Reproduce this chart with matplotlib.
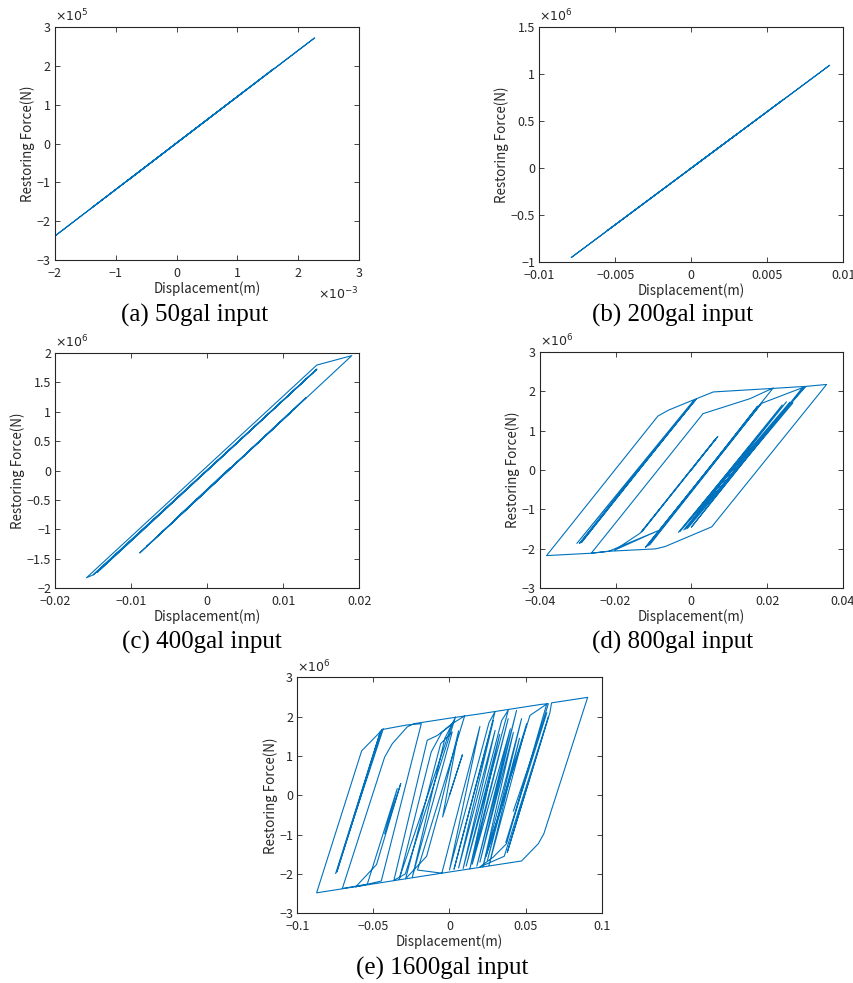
import numpy as np
import matplotlib
matplotlib.use("Agg")
import matplotlib.pyplot as plt

# MATLAB style hysteresis plots, 5 input levels
plt.rcParams['font.family'] = ['Noto Sans CJK JP', 'DejaVu Sans']
plt.rcParams['axes.unicode_minus'] = True

line_color = (0.0, 0.447, 0.741)
text_gray = (0.15, 0.15, 0.15)

# (a) 50gal  -- displacement in 1e-3 m, force in 1e5 N
a_disp = [0.00, 2.27, -2.00, 1.60, -1.40, 1.10, -0.80, 0.00]
a_force = [0.02, 2.72, -2.38, 1.93, -1.66, 1.33, -0.95, 0.02]

# (b) 200gal -- displacement in m, force in 1e6 N
b_disp = [0.0000, 0.0091, -0.0079, 0.0060, -0.0055, 0.0030, 0.0000]
b_force = [0.00, 1.09, -0.95, 0.72, -0.66, 0.36, 0.00]

# (c) 400gal -- force in 1e6 N
c_disp = [0.0000, 0.0144, -0.0150, 0.0140, -0.0145, 0.0144, -0.0150, -0.0159,
          0.0144, 0.0190, -0.0089, 0.0110, -0.0080, 0.0130, -0.0060, 0.0090,
          -0.0040, 0.0030]
c_force = [0.00, 1.72, -1.77, 1.67, -1.73, 1.72, -1.77, -1.82,
           1.79, 1.95, -1.40, 0.99, -1.29, 1.24, -1.05, 0.75,
           -0.80, 0.05]

# (d) 800gal
d_disp = [0.0000, 0.0070, -0.0131, 0.0065, -0.0135, -0.0202, -0.0088, -0.0218,
          -0.0264, 0.0031, 0.0155, 0.0216, -0.0121, 0.0185, -0.0110, 0.0175,
          -0.0115, 0.0185, 0.0302, -0.0034, 0.0251, -0.0020, 0.0268, -0.0010,
          0.0260, -0.0030, 0.0240, -0.0015, 0.0255, 0.0000, 0.0290, 0.0302,
          0.0357, 0.0054, -0.0069, -0.0095, -0.0218, -0.0264, -0.0382, -0.0088,
          -0.0060, 0.0014, -0.0302, 0.0005, -0.0290, 0.0010, -0.0295, 0.0014,
          0.0058, 0.0216, 0.0300, 0.0080]
d_force = [0.00, 0.85, -1.57, 0.80, -1.60, -2.03, -1.54, -2.06,
           -2.11, 1.43, 1.81, 2.08, -1.96, 1.69, -1.90, 1.62,
           -1.93, 1.69, 2.12, -1.58, 1.73, -1.52, 1.70, -1.48,
           1.72, -1.56, 1.65, -1.50, 1.60, -1.45, 2.05, 2.12,
           2.17, -1.44, -1.94, -2.00, -2.06, -2.11, -2.17, 1.37,
           1.52, 1.81, -1.86, 1.75, -1.84, 1.78, -1.86, 1.81,
           1.98, 2.07, 2.12, -0.40]

# (e) 1600gal
e_disp = [0.0000, 0.0085, -0.0045, 0.0060, -0.0063, -0.0150, -0.0288,
          -0.0058, 0.0018, -0.0244, -0.0030, 0.0040, -0.0290, -0.0365,
          -0.0146, -0.0080, 0.0018, -0.0320, -0.0330, -0.0120, -0.0050,
          0.0018, 0.0100, -0.0210, -0.0050, 0.0200,
          0.0000, 0.0260, 0.0300, 0.0030, 0.0288, 0.0060, 0.0300, 0.0090,
          0.0343, 0.0387, 0.0110, 0.0330, 0.0134, 0.0386, 0.0150, 0.0400,
          0.0180, 0.0441, 0.0200, 0.0420, 0.0220, 0.0474, 0.0250, 0.0460,
          0.0260, 0.0507, 0.0240, 0.0529, 0.0639, 0.0375, 0.0288, 0.0200,
          0.0360, 0.0650, 0.0380, 0.0660, 0.0671, 0.0908, 0.0620, 0.0584,
          0.0474, 0.0000, -0.0300, -0.0873, -0.0577, -0.0435, -0.0748,
          -0.0453, -0.0740, -0.0445, -0.0277, -0.0185, -0.0448, -0.0617,
          -0.0479, -0.0320, -0.0426, -0.0343, -0.0540, -0.0704, -0.0426,
          -0.0376, -0.0277, -0.0234, 0.0000, 0.0200, 0.0400, 0.0600,
          0.0650, 0.0370, 0.0640, 0.0420]
e_force = [0.00, 1.03, -0.55, 1.64, -0.33, -1.55, -2.12,
           1.31, 1.61, -2.08, 1.45, 1.99, -2.00, -2.16,
           1.40, 1.52, 1.82, -2.00, -2.14, 1.10, 1.60,
           1.82, 2.02, -1.90, -1.98, 1.75,
           -1.90, 1.85, 2.13, -1.88, 1.90, -1.85, 1.65, -1.86,
           1.90, 2.17, -1.80, 1.55, -1.87, 1.95, -1.75, 1.69,
           -1.80, 2.16, -1.70, 1.60, -1.82, 1.95, -1.65, 1.45,
           -1.78, 1.82, -1.55, 2.03, 2.32, -1.23, -1.57, -1.82,
           -1.55, 2.00, -1.45, 2.10, 2.35, 2.49, -0.98, -1.23,
           -1.67, -1.95, -2.13, -2.48, 1.13, 1.69, -1.99,
           1.63, -1.95, 1.67, 1.79, 1.82, -2.18, -2.33,
           -1.76, 0.30, -0.98, 0.17, -2.26, -2.37, 0.97,
           1.31, 1.74, 1.82, 1.96, 2.07, 2.19, 2.31,
           2.33, -1.20, 2.10, -0.40]

panels = [
    dict(x=a_disp, y=a_force, rect=[0.0644, 0.7355, 0.3560, 0.2370],
         xlim=(-2, 3), xticks=[-2, -1, 0, 1, 2, 3], xlab=['−2', '−1', '0', '1', '2', '3'],
         ylim=(-3, 3), yticks=[-3, -2, -1, 0, 1, 2, 3], ylab=['−3', '−2', '−1', '0', '1', '2', '3'],
         yexp='5', xexp='-3', cap='(a) 50gal input', cap_xy=(195, 315)),
    dict(x=b_disp, y=b_force, rect=[0.6315, 0.7332, 0.3560, 0.2397],
         xlim=(-0.01, 0.01), xticks=[-0.01, -0.005, 0, 0.005, 0.01],
         xlab=['−0.01', '−0.005', '0', '0.005', '0.01'],
         ylim=(-1, 1.5), yticks=[-1, -0.5, 0, 0.5, 1, 1.5], ylab=['−1', '−0.5', '0', '0.5', '1', '1.5'],
         yexp='6', xexp=None, cap='(b) 200gal input', cap_xy=(673, 315)),
    dict(x=c_disp, y=c_force, rect=[0.0648, 0.4015, 0.3560, 0.2397],
         xlim=(-0.02, 0.02), xticks=[-0.02, -0.01, 0, 0.01, 0.02],
         xlab=['−0.02', '−0.01', '0', '0.01', '0.02'],
         ylim=(-2, 2), yticks=[-2, -1.5, -1, -0.5, 0, 0.5, 1, 1.5, 2],
         ylab=['−2', '−1.5', '−1', '−0.5', '0', '0.5', '1', '1.5', '2'],
         yexp='6', xexp=None, cap='(c) 400gal input', cap_xy=(202, 642)),
    dict(x=d_disp, y=d_force, rect=[0.6320, 0.4015, 0.3550, 0.2407],
         xlim=(-0.04, 0.04), xticks=[-0.04, -0.02, 0, 0.02, 0.04],
         xlab=['−0.04', '−0.02', '0', '0.02', '0.04'],
         ylim=(-3, 3), yticks=[-3, -2, -1, 0, 1, 2, 3], ylab=['−3', '−2', '−1', '0', '1', '2', '3'],
         yexp='6', xexp=None, cap='(d) 800gal input', cap_xy=(673, 642)),
    dict(x=e_disp, y=e_force, rect=[0.3481, 0.0709, 0.3564, 0.2401],
         xlim=(-0.1, 0.1), xticks=[-0.1, -0.05, 0, 0.05, 0.1],
         xlab=['−0.1', '−0.05', '0', '0.05', '0.1'],
         ylim=(-3, 3), yticks=[-3, -2, -1, 0, 1, 2, 3], ylab=['−3', '−2', '−1', '0', '1', '2', '3'],
         yexp='6', xexp=None, cap='(e) 1600gal input', cap_xy=(442, 968)),
]

W, H = 854, 983
fig = plt.figure(figsize=(W / 100, H / 100), dpi=100)

for p in panels:
    ax = fig.add_axes(p['rect'])
    ax.plot(p['x'], p['y'], color=line_color, lw=0.8)
    ax.set_xlim(*p['xlim'])
    ax.set_ylim(*p['ylim'])
    ax.set_xticks(p['xticks'])
    ax.set_xticklabels(p['xlab'])
    ax.set_yticks(p['yticks'])
    ax.set_yticklabels(p['ylab'])
    ax.tick_params(direction='in', top=True, right=True, length=3.5, width=0.6,
                   labelsize=9.0, colors=text_gray)
    ax.tick_params(axis='x', pad=5)
    ax.tick_params(axis='y', pad=3)
    for s in ax.spines.values():
        s.set_color(text_gray)
        s.set_linewidth(0.8)
    ax.set_xlabel('Displacement(m)', fontsize=9.6, color=text_gray, labelpad=1)
    ax.set_ylabel('Restoring Force(N)', fontsize=9.6, color=text_gray, labelpad=1)
    ax.text(0.0, 1.01, r'$\times10^{%s}$' % p['yexp'], transform=ax.transAxes,
            fontsize=9, color=text_gray, ha='left', va='bottom')
    if p['xexp']:
        ax.text(1.0, -0.11, r'$\times10^{%s}$' % p['xexp'], transform=ax.transAxes,
                fontsize=9, color=text_gray, ha='right', va='top')
    cx, cy = p['cap_xy']
    fig.text(cx / W, 1 - cy / H, p['cap'], family='Liberation Serif',
             fontsize=18, ha='center', va='center', color='black')

fig.savefig('out.png', dpi=100)
